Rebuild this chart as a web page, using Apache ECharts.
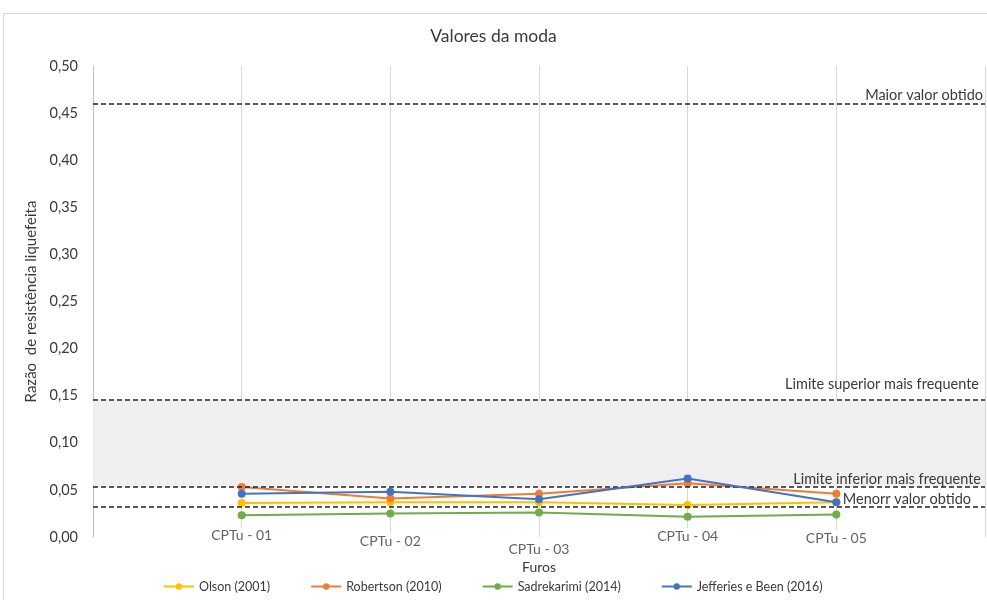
<!DOCTYPE html>
<html>
<head>
<meta charset="utf-8">
<script src="https://cdn.jsdelivr.net/npm/echarts@6/dist/echarts.min.js"></script>
<style>
  html, body { margin: 0; padding: 0; background: #fff; }
  #chart { width: 987px; height: 600px; }
</style>
</head>
<body>
<div id="chart"></div>
<script>
// Boreholes (x positions 1..5 on the value axis)
const furos = ['CPTu - 01', 'CPTu - 02', 'CPTu - 03', 'CPTu - 04', 'CPTu - 05'];

// Mode values of the liquefied strength ratio per method
const olson       = [0.036, 0.037, 0.037, 0.034, 0.037];
const robertson   = [0.053, 0.041, 0.046, 0.057, 0.046];
const sadrekarimi = [0.023, 0.025, 0.026, 0.0215, 0.024];
const jefferies   = [0.046, 0.048, 0.040, 0.062, 0.037];

const seriesNames = ['Olson (2001)', 'Robertson (2010)', 'Sadrekarimi (2014)', 'Jefferies e Been (2016)'];

// Reference levels
const maiorValor = 0.46;
const limiteSuperior = 0.1454;
const limiteInferior = 0.0534;
const menorValor = 0.0322;
const refLabels = ['Maior valor obtido', 'Limite superior mais frequente', 'Limite inferior mais frequente', 'Menorr valor obtido'];

const FONT = 'Lato, "Open Sans", sans-serif';
const TEXT = '#3a3a3a';
const colors = ['#FFC000', '#ED7D31', '#70AD47', '#4472C4'];
const values = [olson, robertson, sadrekarimi, jefferies];

const chart = echarts.init(document.getElementById('chart'));

const lineSeries = values.map((vals, k) => ({
  name: seriesNames[k],
  type: 'line',
  data: vals.map((v, i) => [i + 1, v]),
  symbol: 'circle',
  symbolSize: 8,
  lineStyle: { width: 2, color: colors[k] },
  itemStyle: { color: colors[k] },
  z: 3 + k
}));

const refLine = (value, text, distance) => ({
  yAxis: value,
  label: {
    formatter: text,
    position: 'insideEndTop',
    color: TEXT,
    fontFamily: FONT,
    fontSize: 14.5,
    distance: distance
  }
});

// Reference lines and the most-frequent band
const refSeries = {
  name: 'ref',
  type: 'line',
  data: [],
  silent: true,
  markArea: {
    silent: true,
    itemStyle: { color: '#efefef' },
    data: [[{ yAxis: limiteInferior }, { yAxis: limiteSuperior }]]
  },
  markLine: {
    silent: true,
    precision: 4,
    symbol: 'none',
    lineStyle: { color: '#222', type: [5, 3], width: 1.5 },
    data: [
      refLine(maiorValor, refLabels[0], [2, 1]),
      refLine(limiteSuperior, refLabels[1], [6, 8]),
      refLine(limiteInferior, refLabels[2], [4, 0]),
      refLine(menorValor, refLabels[3], [14, 0])
    ]
  },
  z: 1
};

// Borehole names placed under each position, slightly staggered
const labelShift = [-2, 4, 12, -1, 1];
const furoLabels = {
  name: 'furos',
  type: 'scatter',
  silent: true,
  symbolSize: 1,
  itemStyle: { color: 'rgba(0,0,0,0)' },
  data: furos.map((f, i) => ({
    value: [i + 1, 0],
    label: {
      show: true,
      formatter: f,
      position: 'inside',
      offset: [0, labelShift[i]],
      color: TEXT,
      fontFamily: FONT,
      fontSize: 14,
      backgroundColor: '#fff',
      padding: [1, 2]
    }
  })),
  z: 10
};

chart.setOption({
  backgroundColor: '#fff',
  animation: false,
  color: colors,
  title: {
    text: 'Valores da moda',
    left: 'center',
    top: 22,
    textStyle: { fontFamily: FONT, fontSize: 17.5, fontWeight: 'normal', color: TEXT }
  },
  graphic: [{
    type: 'rect',
    shape: { x: 3.5, y: 13.5, width: 990, height: 600 },
    style: { fill: 'none', stroke: '#d9d9d9', lineWidth: 1 },
    silent: true
  }],
  legend: {
    data: seriesNames,
    bottom: 2,
    left: 158,
    itemGap: 40,
    itemWidth: 30,
    itemHeight: 8,
    textStyle: { fontFamily: FONT, fontSize: 12.5, color: TEXT }
  },
  grid: { left: 93, right: 2, top: 66, bottom: 63 },
  xAxis: {
    type: 'value',
    min: 0,
    max: 6,
    interval: 1,
    name: 'Furos',
    nameLocation: 'middle',
    nameGap: 23,
    nameTextStyle: { fontFamily: FONT, fontSize: 14, color: TEXT },
    axisLine: { show: false },
    axisTick: { show: false },
    axisLabel: { show: false },
    splitLine: { show: true, lineStyle: { color: '#d9d9d9', width: 1 } }
  },
  yAxis: {
    type: 'value',
    min: 0,
    max: 0.5,
    interval: 0.05,
    name: 'Razão  de resistência liquefeita',
    nameLocation: 'middle',
    nameGap: 53,
    nameTextStyle: { fontFamily: FONT, fontSize: 15, color: TEXT },
    axisLine: { show: true, lineStyle: { color: '#bfbfbf' } },
    axisTick: { show: false },
    axisLabel: {
      margin: 15,
      fontFamily: FONT,
      fontSize: 14.5,
      color: TEXT,
      formatter: v => v.toFixed(2).replace('.', ',')
    },
    splitLine: { show: false }
  },
  series: [refSeries, ...lineSeries, furoLabels]
});
</script>
</body>
</html>
